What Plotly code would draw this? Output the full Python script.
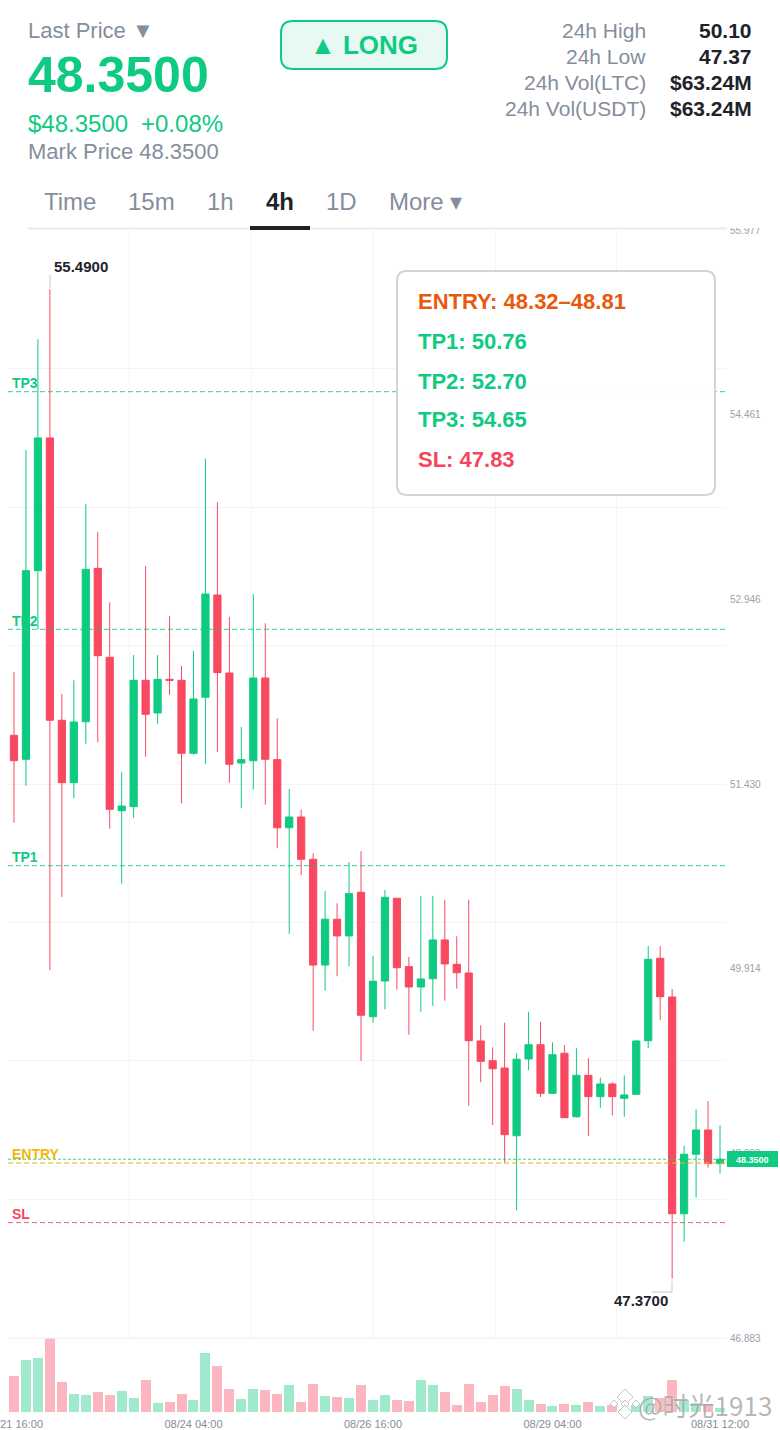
import pandas as pd
import plotly.graph_objects as go

W, H = 780, 1430
GREEN = "#0ECB81"
RED = "#F6465D"
GREY = "#848E9C"
DARK = "#1E2329"

open_ = [51.830, 51.633, 53.181, 54.270, 51.953, 51.441, 51.941, 53.200, 52.470, 51.211,
         51.244, 52.281, 52.013, 52.289, 52.281, 51.682, 52.142, 52.981, 52.341, 51.602,
         51.621, 52.300, 51.630, 51.071, 51.159, 50.812, 49.944, 50.320, 50.183, 50.541,
         49.520, 49.813, 50.492, 49.931, 49.764, 49.832, 50.150, 49.950, 49.879, 49.321,
         49.159, 49.099, 48.543, 49.173, 49.290, 48.891, 49.220, 48.699, 49.039, 48.864,
         48.968, 48.850, 48.883, 49.323, 49.999, 49.682, 47.903, 48.391, 48.590, 48.314]
high = [52.347, 54.171, 55.080, 55.490, 52.169, 52.281, 53.728, 53.498, 52.921, 51.529,
        52.489, 53.219, 52.489, 52.809, 52.399, 52.522, 54.100, 53.742, 52.801, 51.898,
        52.989, 52.749, 51.969, 51.389, 51.219, 50.861, 50.552, 50.451, 50.790, 50.880,
        50.018, 50.560, 50.492, 50.010, 50.511, 50.511, 50.480, 50.180, 50.480, 49.450,
        49.269, 49.471, 49.220, 49.561, 49.479, 49.310, 49.288, 49.261, 49.179, 49.020,
        48.982, 49.039, 49.329, 50.100, 50.100, 49.748, 48.459, 48.760, 48.828, 48.629]
low = [51.112, 51.414, 52.700, 49.903, 50.503, 51.313, 51.761, 51.772, 51.063, 50.612,
       51.153, 51.654, 51.923, 52.161, 51.272, 51.671, 51.592, 51.693, 51.441, 51.231,
       51.383, 51.260, 50.902, 50.201, 50.683, 49.405, 49.734, 49.852, 49.934, 49.157,
       49.471, 49.581, 49.742, 49.372, 49.561, 49.610, 49.652, 49.750, 48.790, 48.982,
       48.631, 48.322, 47.931, 49.083, 48.861, 48.891, 48.691, 48.691, 48.541, 48.773,
       48.711, 48.699, 48.878, 49.261, 49.493, 47.370, 47.673, 48.035, 48.281, 48.232]
close = [51.621, 53.181, 54.270, 51.953, 51.441, 51.939, 53.192, 52.483, 51.222, 51.249,
         52.281, 52.002, 52.289, 52.281, 51.682, 52.128, 52.989, 52.344, 51.592, 51.630,
         52.300, 51.633, 51.071, 51.159, 50.812, 49.944, 50.320, 50.183, 50.530, 49.532,
         49.811, 50.500, 49.922, 49.764, 49.830, 50.150, 49.953, 49.881, 49.323, 49.154,
         49.093, 48.552, 49.171, 49.290, 48.891, 49.208, 48.691, 49.039, 48.864, 48.968,
         48.864, 48.878, 49.321, 49.991, 49.684, 47.903, 48.391, 48.590, 48.314, 48.350]
volume = [108, 156, 162, 222, 90, 54, 51, 59, 51, 63,
          42, 96, 28, 29, 53, 36, 176, 139, 69, 39,
          68, 66, 54, 81, 30, 84, 48, 45, 42, 81,
          36, 51, 36, 33, 96, 81, 59, 20, 84, 29,
          51, 79, 69, 35, 25, 19, 25, 21, 30, 18,
          21, 10, 21, 48, 41, 97, 36, 26, 24, 11]

times = pd.date_range("2025-08-21 16:00", periods=60, freq="4h")
x_tick_vals = ["2025-08-21 16:00", "2025-08-24 04:00", "2025-08-26 16:00", "2025-08-29 04:00", "2025-08-31 12:00"]
x_tick_text = ["08/21 16:00", "08/24 04:00", "08/26 16:00", "08/29 04:00", "08/31 12:00"]

y_label_vals = [55.977, 54.461, 52.946, 51.430, 49.914, 48.399, 46.883]
y_grid_vals = [55.977, 54.840, 53.703, 52.567, 51.430, 50.293, 49.157, 48.020, 46.883]
x_grid_idx = [-0.47, 9.67, 19.85, 30.03, 40.2, 50.38]

levels = {"TP3": 54.65, "TP2": 52.70, "TP1": 50.76, "ENTRY": 48.32, "SL": 47.83}
level_colors = {"TP3": GREEN, "TP2": GREEN, "TP1": GREEN, "ENTRY": "#F0B90B", "SL": RED}
last_price = 48.35
y_min, y_max = 46.883, 55.977

stats_labels = ["24h High", "24h Low", "24h Vol(LTC)", "24h Vol(USDT)"]
stats_values = ["50.10", "47.37", "$63.24M", "$63.24M"]
tabs = [("Time", 44), ("15m", 128), ("1h", 207), ("4h", 266), ("1D", 326), ("More ▾", 389)]
card_lines = [("ENTRY: 48.32–48.81", "#E8590C", 301), ("TP1: 50.76", GREEN, 341),
              ("TP2: 52.70", GREEN, 381), ("TP3: 54.65", GREEN, 419.5), ("SL: 47.83", RED, 459)]


def px(x):
    return x / W


def py(y):
    return 1 - y / H


half = pd.Timedelta(hours=2)
x_start, x_end = times[0] - half, times[-1] + half
fig = go.Figure()

# level labels sit beneath the candles
label_x = times[0] - pd.Timedelta(minutes=40)
for name, val in levels.items():
    fig.add_trace(go.Scatter(x=[label_x], y=[val], mode="text", text=[f"<b>{name}</b>"],
                             textposition="top right", cliponaxis=False,
                             textfont=dict(family="Liberation Sans", size=14, color=level_colors[name]),
                             hoverinfo="skip", showlegend=False))

fig.add_trace(go.Candlestick(
    x=times, open=open_, high=high, low=low, close=close,
    increasing=dict(line=dict(color=GREEN, width=1), fillcolor=GREEN),
    decreasing=dict(line=dict(color="#F84960", width=1), fillcolor="#F84960"),
    whiskerwidth=0, showlegend=False, hoverinfo="skip"))

fig.add_trace(go.Bar(
    x=times, y=volume, yaxis="y2",
    marker=dict(color=["rgba(14,203,129,0.40)" if c >= o else "rgba(248,73,96,0.40)"
                       for o, c in zip(open_, close)], line=dict(width=0)),
    width=[4 * 3600 * 1000 * 0.835] * len(volume),
    showlegend=False, hoverinfo="skip"))

for name, val in levels.items():
    fig.add_trace(go.Scatter(
        x=[x_start, x_end], y=[val, val], mode="lines",
        line=dict(color=level_colors[name], width=2 if name == "ENTRY" else 1,
                  dash="5px,3px"),
        opacity=0.55 if name == "ENTRY" else 0.85,
        hoverinfo="skip", showlegend=False))
fig.add_trace(go.Scatter(
    x=[x_start, x_end], y=[last_price, last_price], mode="lines",
    line=dict(color=GREEN, width=1, dash="3px,2px"), opacity=0.8,
    hoverinfo="skip", showlegend=False))

# helper traces that keep the overlay axes alive
fig.add_trace(go.Scatter(x=[x_grid_idx[0]], y=[y_min], xaxis="x2", yaxis="y", mode="markers",
                         marker=dict(opacity=0), hoverinfo="skip", showlegend=False))
fig.add_trace(go.Scatter(x=[times[0]], y=[y_min], yaxis="y3", mode="markers",
                         marker=dict(opacity=0), hoverinfo="skip", showlegend=False))

shapes = []


def rect(x0, y0, x1, y1, fill, line=None, lw=0, layer="above"):
    shapes.append(dict(type="rect", xref="paper", yref="paper", x0=px(x0), x1=px(x1), y0=py(y0), y1=py(y1),
                       fillcolor=fill, line=dict(width=lw, color=line or fill), layer=layer))


def rrect(x0, y0, x1, y1, r, fill, line, lw):
    def P(a, b):
        return f"{px(a):.5f},{py(b):.5f}"
    path = (f"M{P(x0 + r, y0)} L{P(x1 - r, y0)} Q{P(x1, y0)} {P(x1, y0 + r)} "
            f"L{P(x1, y1 - r)} Q{P(x1, y1)} {P(x1 - r, y1)} L{P(x0 + r, y1)} "
            f"Q{P(x0, y1)} {P(x0, y1 - r)} L{P(x0, y0 + r)} Q{P(x0, y0)} {P(x0 + r, y0)} Z")
    shapes.append(dict(type="path", xref="paper", yref="paper", path=path, fillcolor=fill,
                       line=dict(color=line, width=lw), layer="above"))


def seg(x0, y0, x1, y1, color, lw=1):
    shapes.append(dict(type="line", xref="paper", yref="paper", x0=px(x0), x1=px(x1), y0=py(y0), y1=py(y1),
                       line=dict(color=color, width=lw), layer="above"))


rect(0, 0, W, 228, "white")            # header mask
seg(28, 228.5, 727, 228.5, "#EAECEF", 2)
rect(250, 226, 310, 230, DARK)
rrect(281, 21, 447, 69, 12, "#E7F9F2", GREEN, 2)
rrect(397, 271, 715, 495, 10, "rgba(255,255,255,0.95)", "#D1D5DB", 2)
seg(50, 275, 50, 288, "#C4C8CE", 1)
seg(672, 1281, 672, 1292, "#C4C8CE", 1)
seg(652, 1292, 672, 1292, "#C4C8CE", 1)
seg(8, 1338, 727, 1338, "#F2F3F5", 1.5)
rect(727, 1151, 778, 1167, GREEN)

# watermark emblem: white diamonds with a soft outline
for cx, cy, r in [(625, 1397, 8), (614, 1404, 4), (636, 1404, 4), (625, 1404, 4), (625, 1412, 7)]:
    def Q(a, b):
        return f"{px(a):.5f},{py(b):.5f}"
    shapes.append(dict(type="path", xref="paper", yref="paper",
                       path=f"M{Q(cx, cy - r)} L{Q(cx + r, cy)} L{Q(cx, cy + r)} L{Q(cx - r, cy)} Z",
                       fillcolor="rgba(255,255,255,0.85)", line=dict(color="rgba(170,170,170,0.7)", width=1),
                       layer="above"))

ann = []


def text(t, x, y, size, color, anchor="left", bold=False, family="Liberation Sans", shadow=None):
    nudge = {"left": -1, "right": 1, "center": 0}[anchor]
    font = dict(family=family, size=size, color=color)
    if shadow:
        font["shadow"] = shadow
    ann.append(dict(text=f"<b>{t}</b>" if bold else t, x=px(x + nudge), y=py(y), xref="paper", yref="paper",
                    xanchor=anchor, yanchor="middle", showarrow=False, font=font, borderpad=0))


text("Last Price ▼", 28, 31, 22, GREY)
text("48.3500", 28, 75.5, 50, GREEN, bold=True)
text("$48.3500", 28, 124, 24, GREEN)
text("+0.08%", 141, 124, 24, GREEN)
text("Mark Price 48.3500", 28, 152, 22, GREY)
text("▲ LONG", 364, 45, 26, GREEN, anchor="center", bold=True)
for i, (lab, val) in enumerate(zip(stats_labels, stats_values)):
    yy = 31 + i * 26
    text(lab, 646, yy, 21, GREY, anchor="right")
    text(val, 752, yy, 21, DARK, anchor="right", bold=True)
for lab, xx in tabs:
    text(lab, xx, 201.5, 24, DARK if lab == "4h" else GREY, bold=lab == "4h")
for t, c, yy in card_lines:
    text(t, 418, yy, 22, c, bold=True)
text("55.4900", 54, 266, 15, DARK, bold=True)
text("47.3700", 614, 1300, 15, DARK, bold=True)
text("48.3500", 752.5, 1160, 9, "white", anchor="center", bold=True)
text("@时光1913", 772, 1404, 26, "rgba(135,135,135,0.6)", anchor="right",
     family="Noto Sans CJK SC", shadow="0px 0px 2px white")

x_dom = [px(8), px(726)]
fig.update_layout(
    width=W, height=H, margin=dict(l=0, r=0, t=0, b=0, pad=0), autosize=False,
    paper_bgcolor="white", plot_bgcolor="white", boxgap=0.14, showlegend=False,
    shapes=shapes, annotations=ann, dragmode=False, bargap=0,
    xaxis=dict(domain=x_dom, type="date", range=[x_start, x_end], anchor="y2", automargin=False,
               rangeslider=dict(visible=False), showgrid=False, zeroline=False, showline=False,
               tickmode="array", tickvals=x_tick_vals, ticktext=x_tick_text, ticks="",
               ticklabeloverflow="allow", ticklabelstandoff=4,
               tickfont=dict(family="Liberation Sans", size=11, color=GREY)),
    xaxis2=dict(domain=x_dom, overlaying="x", anchor="y", range=[-0.5, 59.5], type="linear", automargin=False,
                tickmode="array", tickvals=x_grid_idx, showticklabels=False, ticks="",
                showgrid=True, gridcolor="#F3F4F6", gridwidth=1, zeroline=False, showline=False),
    yaxis=dict(domain=[py(1338), py(230)], range=[y_min, y_max], anchor="x", automargin=False,
               tickmode="array", tickvals=y_grid_vals, showticklabels=False, ticks="",
               showgrid=True, gridcolor="#F3F4F6", gridwidth=1, zeroline=False, showline=False),
    yaxis2=dict(domain=[py(1412), py(1338)], range=[0, 222], anchor="x", showgrid=False, automargin=False,
                zeroline=False, showticklabels=False, ticks="", showline=False),
    yaxis3=dict(domain=[py(1338), py(230)], overlaying="y", side="right", anchor="x", automargin=False,
                range=[y_min, y_max], tickmode="array", tickvals=y_label_vals,
                ticktext=[f"{v:.3f}" for v in y_label_vals], showgrid=False, zeroline=False, ticks="",
                ticklabelstandoff=3, showline=False,
                tickfont=dict(family="Liberation Sans", size=10, color="#9AA1AC")),
)

fig.write_html("out.html", config={"displayModeBar": False, "staticPlot": True},
               post_script="document.body.style.margin='0';document.body.style.overflow='hidden';")
